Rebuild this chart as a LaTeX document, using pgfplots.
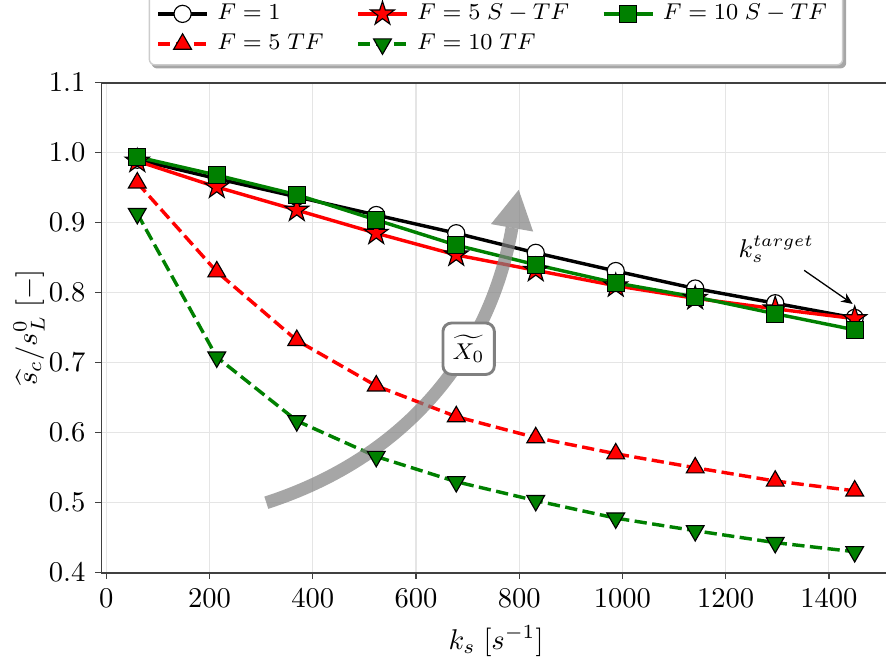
\documentclass[border=0pt]{standalone}
\usepackage{pgfplots}
\pgfplotsset{compat=1.18}
\usetikzlibrary{arrows.meta}
\pgfdeclarelayer{bg}
\pgfsetlayers{bg,main}

% filled five-pointed star, like matplotlib's '*'
\pgfdeclareplotmark{fstar}{%
  \pgfpathmoveto{\pgfpointpolar{90}{\pgfplotmarksize}}%
  \pgfpathlineto{\pgfpointpolar{126}{0.382\pgfplotmarksize}}%
  \pgfpathlineto{\pgfpointpolar{162}{\pgfplotmarksize}}%
  \pgfpathlineto{\pgfpointpolar{198}{0.382\pgfplotmarksize}}%
  \pgfpathlineto{\pgfpointpolar{234}{\pgfplotmarksize}}%
  \pgfpathlineto{\pgfpointpolar{270}{0.382\pgfplotmarksize}}%
  \pgfpathlineto{\pgfpointpolar{306}{\pgfplotmarksize}}%
  \pgfpathlineto{\pgfpointpolar{342}{0.382\pgfplotmarksize}}%
  \pgfpathlineto{\pgfpointpolar{18}{\pgfplotmarksize}}%
  \pgfpathlineto{\pgfpointpolar{54}{0.382\pgfplotmarksize}}%
  \pgfpathclose
  \pgfusepathqfillstroke}

\definecolor{mplgreen}{RGB}{0,128,0}

\begin{document}
\begin{tikzpicture}
\begin{axis}[
  scale only axis,
  width=276.2pt, height=171.5pt,
  xmin=-9.5, xmax=1519.5,
  ymin=0.4, ymax=1.1,
  xtick={0,200,...,1400},
  ytick={0.4,0.5,...,1.1},
  scaled ticks=false,
  xticklabel style={/pgf/number format/1000 sep={}},
  yticklabel style={/pgf/number format/.cd,fixed,fixed zerofill,precision=1},
  tick label style={font=\fontsize{10.3}{12}\selectfont},
  label style={font=\fontsize{11}{13}\selectfont},
  tick align=outside, tick pos=left,
  major tick length=2.1pt,
  every tick/.style={black!75, line width=0.5pt},
  axis line style={black!75, line width=0.6pt},
  grid=major,
  major grid style={black!10, line width=0.4pt},
  xlabel={$k_s\;[s^{-1}]$},
  ylabel={$\widehat{s}_c/s_L^0\;[-]$},
  every axis x label/.style={at={(axis description cs:0.5,0)}, anchor=center, yshift=-24pt},
  every axis y label/.style={at={(axis description cs:-0.0917,0.5)}, anchor=center, rotate=90},
  legend columns=3,
  legend cell align=left,
  legend style={name=leg, at={(0.5,1)}, anchor=south, yshift=6pt,
    font=\fontsize{8.2}{9}\selectfont,
    draw=black!20, line width=0.5pt, rounded corners=2pt, fill=white,
    nodes={inner ysep=0.6pt, inner xsep=3pt},
    row sep=2.4pt, inner xsep=2.5pt, inner ysep=3.2pt,
    /tikz/every even column/.append style={column sep=8.5pt}},
]
\addplot[black, line width=1.2pt, mark=*, mark size=3pt,
  mark options={solid, fill=white, draw=black, line width=0.4pt}]
  coordinates {(60,0.990) (214,0.963) (369,0.937) (523,0.911) (678,0.885)
               (832,0.857) (987,0.831) (1141,0.806) (1296,0.785) (1450,0.764)};
\addlegendentry{$F=1$}
\addplot[red, line width=1.2pt, mark=fstar, mark size=4.4pt,
  mark options={solid, fill=red, draw=black, line width=0.4pt}]
  coordinates {(60,0.988) (214,0.951) (369,0.918) (523,0.885) (678,0.854)
               (832,0.832) (987,0.810) (1141,0.792) (1296,0.777) (1450,0.763)};
\addlegendentry{$F=5\;S-TF$}
\addplot[mplgreen, line width=1.2pt, mark=square*, mark size=3pt,
  mark options={solid, fill=mplgreen, draw=black, line width=0.4pt}]
  coordinates {(60,0.994) (214,0.968) (369,0.940) (523,0.904) (678,0.868)
               (832,0.840) (987,0.814) (1141,0.794) (1296,0.770) (1450,0.747)};
\addlegendentry{$F=10\;S-TF$}
\addplot[red, line width=1.2pt, dash pattern=on 4.3pt off 1.9pt, mark=triangle*, mark size=3.6pt,
  mark options={solid, fill=red, draw=black, line width=0.4pt}]
  coordinates {(60,0.957) (214,0.830) (369,0.732) (523,0.667) (678,0.623)
               (832,0.593) (987,0.570) (1141,0.550) (1296,0.531) (1450,0.517)};
\addlegendentry{$F=5\;TF$}
\addplot[mplgreen, line width=1.2pt, dash pattern=on 4.3pt off 1.9pt, mark=triangle*, mark size=3.6pt,
  mark options={solid, rotate=180, fill=mplgreen, draw=black, line width=0.4pt}]
  coordinates {(60,0.913) (214,0.708) (369,0.617) (523,0.566) (678,0.530)
               (832,0.503) (987,0.478) (1141,0.460) (1296,0.443) (1450,0.430)};
\addlegendentry{$F=10\;TF$}

% curved direction arrow
\draw[line width=4.5pt, black!50, opacity=0.7, -{Triangle[length=13.5pt,width=15pt,line width=0pt]}]
  (axis cs:310,0.500) to[out=18,in=-100] (axis cs:799,0.947);
\node[draw=black!50, line width=1pt, rounded corners=3pt, fill=white,
  minimum size=18pt, inner sep=1pt, font=\fontsize{8}{9}\selectfont]
  at (axis cs:702,0.720) {$\widetilde{X_0}$};

% target annotation
\node[font=\fontsize{9}{10}\selectfont] at (axis cs:1298,0.862) {$k_s^{target}$};
\draw[-{Stealth[length=4pt,width=3.5pt]}, line width=0.45pt] (axis cs:1352,0.832) -- (axis cs:1446,0.784);

\coordinate (bbsw) at (rel axis cs:0,0);
\end{axis}
\begin{pgfonlayer}{bg}
\fill[black!35, rounded corners=2pt] ([shift={(1pt,-1pt)}]leg.south west) rectangle ([shift={(1pt,-1pt)}]leg.north east);
\end{pgfonlayer}
\pgfresetboundingbox
\path[use as bounding box] (bbsw) ++(-35.5pt,-30.9pt) rectangle ++(310.1pt,231.35pt);
\end{tikzpicture}
\end{document}
